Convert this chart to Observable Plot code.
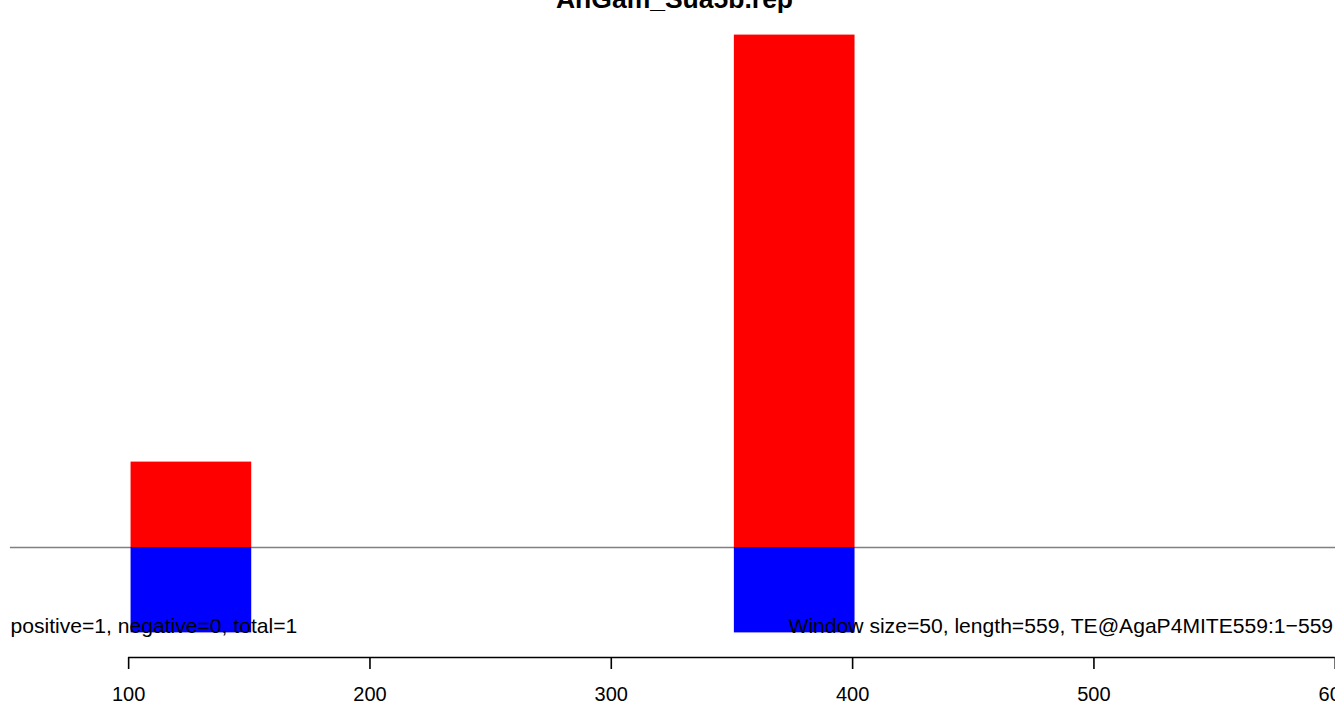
<!DOCTYPE html>
<html>
<head>
<meta charset="utf-8">
<script src="https://cdn.jsdelivr.net/npm/d3@7"></script>
<script src="https://cdn.jsdelivr.net/npm/@observablehq/plot@0.6"></script>
<style>
  html, body { margin: 0; padding: 0; background: #fff; overflow: hidden; }
  #chart svg { display: block; }
</style>
</head>
<body>
<div id="chart"></div>
<script>
// ---- data ----
const titleText = "AnGam_Sua5b.rep";
const xTicks = [100, 200, 300, 400, 500, 600];
const winStart = [101, 351];
const winEnd = [151, 401];
const positive = [1, 6];
const negative = [-1, -1];
const leftNote = "positive=1, negative=0, total=1";
const rightNote = "Window size=50, length=559, TE@AgaP4MITE559:1\u2212559";
const xDomain = [46.9, 600.1];
const yDomain = [-1.288, 6.405];
const baselineSpan = [51, 600.1];

const bars = winStart.map((s, i) => ({start: s, end: winEnd[i], pos: positive[i], neg: negative[i]}));

const chart = Plot.plot({
  width: 1335,
  height: 704,
  marginTop: 0,
  marginLeft: 0,
  marginRight: 0,
  marginBottom: 47,
  style: {fontFamily: "'Liberation Sans', Arial, Helvetica, sans-serif", background: "#fff", color: "#000"},
  x: {domain: xDomain},
  y: {domain: yDomain, axis: null},
  marks: [
    Plot.ruleY([0], {x1: baselineSpan[0], x2: baselineSpan[1], stroke: "#808080", strokeWidth: 1.3}),
    Plot.rect(bars, {x1: "start", x2: "end", y1: 0, y2: "pos", fill: "#ff0000"}),
    Plot.rect(bars, {x1: "start", x2: "end", y1: 0, y2: "neg", fill: "#0000ff"}),
    Plot.ruleY([yDomain[0]], {x1: xTicks[0], x2: xTicks[xTicks.length - 1], stroke: "#000", strokeWidth: 1.6}),
    Plot.axisX(xTicks, {anchor: "bottom", tickSize: 12, tickPadding: 17, fontSize: 20, strokeWidth: 1.6, label: null, stroke: "#000", fill: "#000"}),
    Plot.text([leftNote], {frameAnchor: "bottom-left", dx: 10, dy: -25, textAnchor: "start", lineAnchor: "bottom", fontSize: 21.1, fill: "#000"}),
    Plot.text([rightNote], {frameAnchor: "bottom-left", dx: 788, dy: -25, textAnchor: "start", lineAnchor: "bottom", fontSize: 21.1, fill: "#000"}),
    Plot.text([titleText], {frameAnchor: "top", dx: 6.5, dy: 7, lineAnchor: "bottom", fontSize: 26.5, fontWeight: "bold", fill: "#000"})
  ]
});
document.getElementById("chart").append(chart);
</script>
</body>
</html>
